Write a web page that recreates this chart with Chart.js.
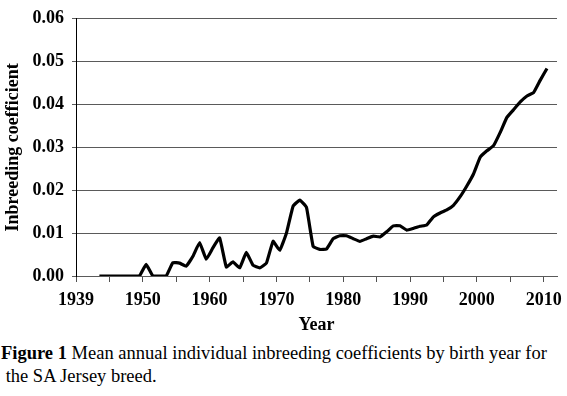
<!DOCTYPE html>
<html>
<head>
<meta charset="utf-8">
<script src="https://cdn.jsdelivr.net/npm/chart.js@4/dist/chart.umd.min.js"></script>
<style>
    html, body { margin: 0; padding: 0; background: #fff; }
    #wrap { position: relative; width: 567px; height: 340px; }
    .caption {
        font-family: "Liberation Serif", "Times New Roman", serif;
        font-size: 18.5px;
        line-height: 23px;
        color: #000;
        white-space: nowrap;
        margin: 2px 0 0 1px;
    }
</style>
</head>
<body>
<div id="wrap"><canvas id="inbreedingChart" width="567" height="340"></canvas></div>
<div class="caption"><b>Figure 1</b> Mean annual individual inbreeding coefficients by birth year for<br>&nbsp;the SA Jersey breed.</div>
<script>
// birth years and mean inbreeding coefficient
const years = [1943, 1944, 1945, 1946, 1947, 1948, 1949, 1950, 1951, 1952,
    1953, 1954, 1955, 1956, 1957, 1958, 1959, 1960, 1961, 1962,
    1963, 1964, 1965, 1966, 1967, 1968, 1969, 1970, 1971, 1972,
    1973, 1974, 1975, 1976, 1977, 1978, 1979, 1980, 1981, 1982,
    1983, 1984, 1985, 1986, 1987, 1988, 1989, 1990, 1991, 1992,
    1993, 1994, 1995, 1996, 1997, 1998, 1999, 2000, 2001, 2002,
    2003, 2004, 2005, 2006, 2007, 2008, 2009, 2010];
const inbreeding = [0, 0, 0, 0, 0, 0, 0, 0.0027, 0, 0,
    0, 0.0031, 0.0030, 0.0023, 0.0046, 0.0078, 0.0039, 0.0066, 0.0089, 0.0021,
    0.0033, 0.0019, 0.0055, 0.0025, 0.0019, 0.0030, 0.0081, 0.0060, 0.0100, 0.0163,
    0.0177, 0.0160, 0.0069, 0.0062, 0.0063, 0.0087, 0.0094, 0.0094, 0.0087, 0.0081,
    0.0087, 0.0093, 0.0091, 0.0103, 0.0117, 0.0117, 0.0107, 0.0111, 0.0116, 0.0119,
    0.0138, 0.0147, 0.0154, 0.0165, 0.0185, 0.0210, 0.0238, 0.0277, 0.0292, 0.0304,
    0.0335, 0.0370, 0.0388, 0.0406, 0.0420, 0.0428, 0.0457, 0.0484];
const xTickLabels = ['1939', '1950', '1960', '1970', '1980', '1990', '2000', '2010'];

// x axis runs between category boundaries, ticks every 5 years
const xMin = 1939.5, xMax = 2011.5;
const serif = '"Liberation Serif", "Times New Roman", serif';

const ctx = document.getElementById('inbreedingChart').getContext('2d');
new Chart(ctx, {
    type: 'line',
    data: {
        datasets: [{
            data: years.map((y, i) => ({ x: y, y: inbreeding[i] })),
            borderColor: '#000',
            borderWidth: 3.2,
            pointRadius: 0,
            tension: 0.1,
            fill: false
        }]
    },
    options: {
        responsive: false,
        animation: false,
        layout: { padding: { top: 10, right: 10, left: 0, bottom: 0 } },
        plugins: { legend: { display: false }, tooltip: { enabled: false } },
        scales: {
            x: {
                type: 'linear',
                min: xMin,
                max: xMax,
                afterBuildTicks: scale => {
                    const t = [];
                    for (let v = xMin; v < xMax; v += 5) t.push({ value: v });
                    scale.ticks = t;
                },
                afterFit: scale => {
                    scale.height = 64;
                    // let the 2010 label overhang the plot edge like the original
                    scale.paddingRight = 0;
                    scale.paddingLeft = 0;
                },
                grid: {
                    display: true,
                    drawOnChartArea: false,
                    drawTicks: true,
                    tickLength: 6,
                    lineWidth: 1,
                    color: 'rgb(80,80,80)'
                },
                border: { display: true, color: 'rgb(90,90,90)', width: 1 },
                ticks: {
                    autoSkip: false,
                    maxRotation: 0,
                    padding: 8,
                    color: '#000',
                    font: { family: serif, size: 18, weight: 'bold' },
                    callback: function (value) {
                        const k = (value - xMin) / 10;
                        return Number.isInteger(k) ? xTickLabels[k] : '';
                    }
                },
                title: {
                    display: true,
                    text: 'Year',
                    color: '#000',
                    padding: { top: 0, bottom: 4 },
                    font: { family: serif, size: 18, weight: 'bold' }
                }
            },
            y: {
                min: 0,
                max: 0.06,
                afterFit: scale => { scale.width = 76; },
                grid: {
                    display: true,
                    drawOnChartArea: true,
                    color: 'rgb(90,90,90)',
                    tickLength: 4,
                    lineWidth: 1
                },
                border: { display: true, color: '#000', width: 1 },
                ticks: {
                    stepSize: 0.01,
                    padding: 8,
                    color: '#000',
                    font: { family: serif, size: 18, weight: 'bold' },
                    callback: v => v.toFixed(2)
                },
                title: {
                    display: true,
                    text: 'Inbreeding coefficient',
                    color: '#000',
                    padding: 3,
                    font: { family: serif, size: 18, weight: 'bold' }
                }
            }
        }
    }
});
</script>
</body>
</html>
